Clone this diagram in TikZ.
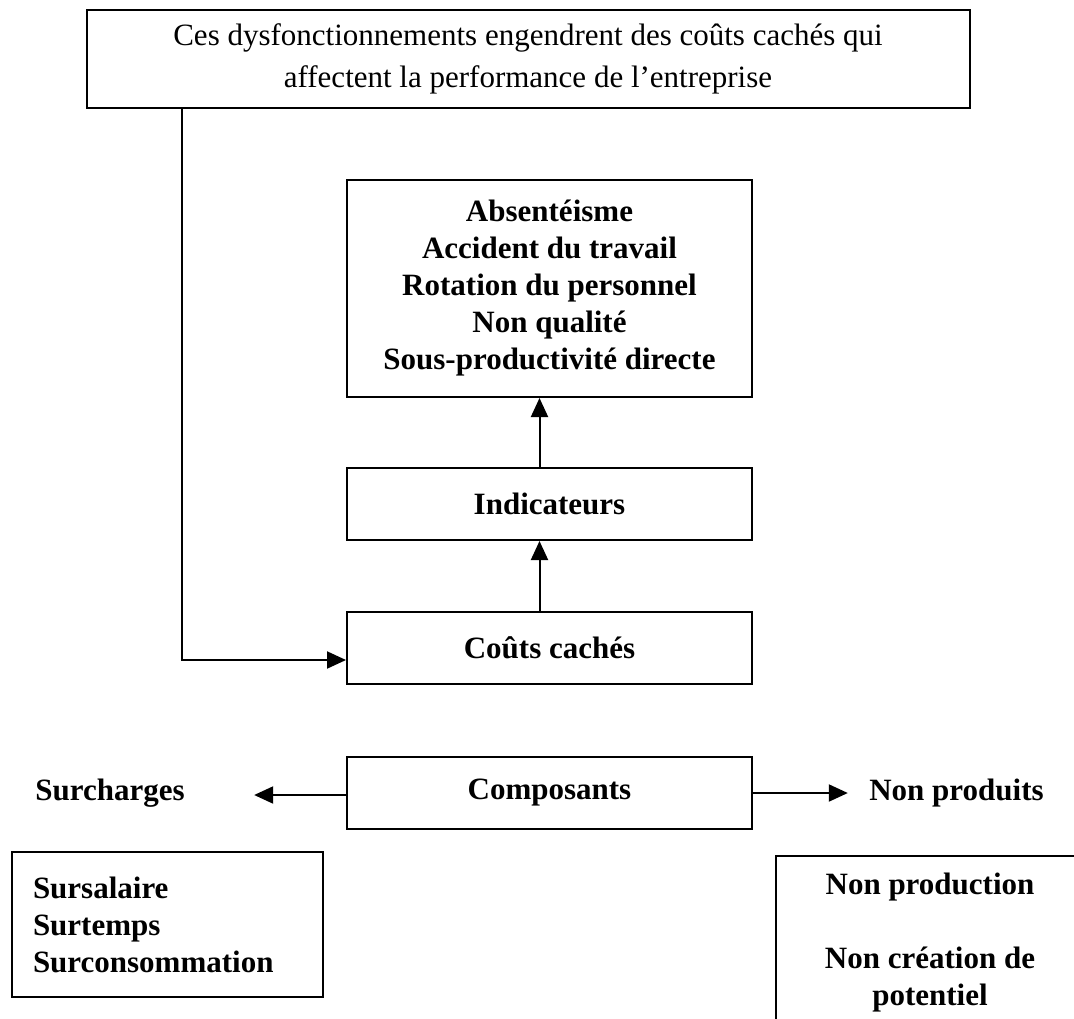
\documentclass[tikz,border=0pt]{standalone}
\usepackage{fontspec}
\setmainfont{Liberation Serif}
\usetikzlibrary{arrows.meta,positioning}

\newcommand{\diagfont}{\fontsize{31}{37}\selectfont}

\tikzset{
	box/.style={draw, line width=2pt, minimum width=405pt, minimum height=72pt,
		align=center, font=\diagfont\bfseries},
	word/.style={font=\diagfont\bfseries},
	flow/.style={-{Triangle[length=19pt,width=17pt]}, line width=2pt},
}

\begin{document}
\begin{tikzpicture}[x=1pt, y=-1pt, on grid]
\useasboundingbox (0,0) rectangle (1074,1018);
\clip (0,0) rectangle (1074,1018);

	\node[box, minimum width=883pt, minimum height=98pt, font=\diagfont] (top) at (528,59)
		{Ces dysfonctionnements engendrent des coûts cachés qui\\[5pt]
		 affectent la performance de l'entreprise};
	\node[box, minimum height=217pt] (dys) [below right=229.5pt and 21.5pt of top]
		{Absentéisme\\Accident du travail\\Rotation du personnel\\Non qualité\\Sous-productivité directe};
	\node[box] 		(ind) [below=215.5pt of dys] 	{Indicateurs};
	\node[box] 		(cout) [below=144pt of ind] 	{Coûts cachés};
	\node[box] 		(comp) [below=145pt of cout] 	{Composants};
	\node[word] 	(surch) [left=439.5pt of comp] 	{Surcharges};
	\node[word] 	(nonprod) [right=407pt of comp] 	{Non produits};

	\node[box, minimum width=0pt, minimum height=145pt, text width=269pt, inner xsep=21pt, align=left]
		(surlist) at (167.5,924.5) {Sursalaire\\Surtemps\\Surconsommation};
	\node[box, minimum width=308pt, minimum height=174pt]
		(nonlist) at (930,943) {Non production\\[37pt]Non création de\\potentiel};

	\coordinate (elbow) at (182,660);
	\draw[flow] (top.south -| elbow) -- (elbow) -- (elbow -| cout.west);
	\draw[flow] ([xshift=-10pt]cout.north) -- ([xshift=-10pt]ind.south);
	\draw[flow] ([xshift=-10pt]ind.north) -- ([xshift=-10pt]dys.south);
	\draw[flow, shorten >=66pt] ([yshift=-2pt]comp.west) -- ([yshift=-2pt]comp.west -| surch.east);
	\draw[flow, shorten >=18pt] (comp.east) -- (comp.east -| nonprod.west);
\end{tikzpicture}
\end{document}
